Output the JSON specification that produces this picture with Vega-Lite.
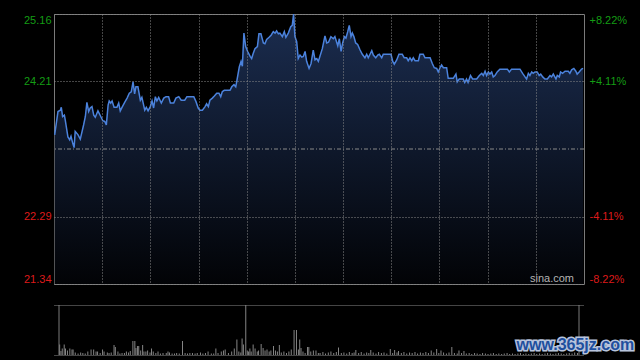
{
  "$schema": "https://vega.github.io/schema/vega-lite/v6.json",
  "background": "#000000",
  "padding": {"left": 22, "top": 13, "right": 5, "bottom": 5},
  "bounds": "flush",
  "spacing": 21,
  "config": {
    "view": {"stroke": "#7a7a7a"},
    "axis": {"labelFont": "Liberation Sans", "labelFontSize": 11, "title": null}
  },
  "datasets": {
    "price": [
      {"t":0.3,"p":23.45},{"t":1.8,"p":23.78},{"t":2.9,"p":23.80},{"t":3.3,"p":23.84},{"t":3.9,"p":23.71},{"t":4.7,"p":23.73},{"t":5.1,"p":23.66},{"t":6.3,"p":23.42},{"t":7.1,"p":23.38},{"t":7.7,"p":23.43},{"t":8.5,"p":23.33},{"t":9.1,"p":23.27},{"t":9.6,"p":23.50},{"t":10.9,"p":23.45},{"t":11.9,"p":23.39},{"t":13.4,"p":23.59},{"t":14.2,"p":23.71},{"t":14.9,"p":23.91},{"t":15.7,"p":23.78},{"t":16.4,"p":23.83},{"t":17.2,"p":23.85},{"t":18.0,"p":23.73},{"t":18.7,"p":23.70},{"t":19.9,"p":23.79},{"t":21.0,"p":23.72},{"t":22.1,"p":23.65},{"t":23.0,"p":23.64},{"t":23.7,"p":23.59},{"t":24.5,"p":23.87},{"t":25.0,"p":23.93},{"t":25.7,"p":23.90},{"t":26.3,"p":23.93},{"t":27.2,"p":23.84},{"t":28.5,"p":23.84},{"t":29.3,"p":23.90},{"t":30.0,"p":23.79},{"t":30.8,"p":23.84},{"t":32.0,"p":23.91},{"t":33.1,"p":23.97},{"t":34.1,"p":24.04},{"t":35.0,"p":24.06},{"t":35.8,"p":24.20},{"t":36.5,"p":24.03},{"t":37.1,"p":24.13},{"t":38.0,"p":24.13},{"t":39.1,"p":23.94},{"t":39.8,"p":23.98},{"t":41.1,"p":23.80},{"t":41.8,"p":23.84},{"t":42.6,"p":23.79},{"t":43.6,"p":23.85},{"t":44.4,"p":23.93},{"t":45.1,"p":23.83},{"t":45.9,"p":23.99},{"t":46.6,"p":23.93},{"t":47.4,"p":23.98},{"t":48.6,"p":23.90},{"t":49.7,"p":23.97},{"t":50.7,"p":23.99},{"t":51.9,"p":23.99},{"t":52.7,"p":23.90},{"t":54.2,"p":23.90},{"t":55.2,"p":23.97},{"t":56.5,"p":23.99},{"t":57.6,"p":23.94},{"t":59.2,"p":23.94},{"t":60.2,"p":23.99},{"t":63.3,"p":23.99},{"t":64.3,"p":23.92},{"t":65.3,"p":23.83},{"t":66.1,"p":23.80},{"t":67.2,"p":23.80},{"t":68.4,"p":23.85},{"t":69.1,"p":23.89},{"t":69.9,"p":23.85},{"t":70.6,"p":23.94},{"t":71.7,"p":23.97},{"t":72.6,"p":24.00},{"t":73.7,"p":24.04},{"t":74.7,"p":24.04},{"t":75.5,"p":23.99},{"t":76.2,"p":24.06},{"t":77.1,"p":24.08},{"t":79.7,"p":24.08},{"t":80.5,"p":24.13},{"t":81.5,"p":24.16},{"t":82.3,"p":24.13},{"t":83.0,"p":24.25},{"t":83.9,"p":24.41},{"t":84.7,"p":24.49},{"t":85.3,"p":24.42},{"t":86.0,"p":24.89},{"t":86.8,"p":24.70},{"t":87.7,"p":24.63},{"t":88.8,"p":24.56},{"t":89.5,"p":24.53},{"t":90.2,"p":24.60},{"t":91.0,"p":24.67},{"t":92.1,"p":24.70},{"t":92.8,"p":24.88},{"t":93.7,"p":24.88},{"t":94.8,"p":24.75},{"t":95.5,"p":24.74},{"t":96.3,"p":24.80},{"t":97.4,"p":24.83},{"t":98.3,"p":24.86},{"t":99.3,"p":24.91},{"t":100.1,"p":24.89},{"t":100.8,"p":24.92},{"t":101.6,"p":24.88},{"t":102.3,"p":24.89},{"t":103.4,"p":24.84},{"t":104.3,"p":24.91},{"t":105.0,"p":24.83},{"t":106.1,"p":24.89},{"t":107.2,"p":24.98},{"t":107.9,"p":25.00},{"t":108.5,"p":25.16},{"t":109.1,"p":24.84},{"t":109.9,"p":24.77},{"t":110.6,"p":24.53},{"t":111.4,"p":24.58},{"t":112.2,"p":24.55},{"t":112.9,"p":24.56},{"t":113.7,"p":24.63},{"t":114.4,"p":24.49},{"t":115.5,"p":24.39},{"t":116.4,"p":24.46},{"t":117.4,"p":24.65},{"t":118.2,"p":24.51},{"t":119.0,"p":24.53},{"t":119.7,"p":24.49},{"t":120.4,"p":24.56},{"t":121.5,"p":24.67},{"t":122.7,"p":24.85},{"t":123.5,"p":24.75},{"t":124.3,"p":24.76},{"t":125.4,"p":24.84},{"t":126.5,"p":24.81},{"t":127.2,"p":24.84},{"t":128.5,"p":24.71},{"t":129.2,"p":24.81},{"t":130.0,"p":24.63},{"t":130.7,"p":24.75},{"t":131.5,"p":24.84},{"t":132.2,"p":24.82},{"t":133.0,"p":24.91},{"t":133.7,"p":25.00},{"t":134.5,"p":24.84},{"t":135.1,"p":24.89},{"t":135.8,"p":24.84},{"t":136.6,"p":24.75},{"t":137.5,"p":24.73},{"t":138.6,"p":24.65},{"t":139.6,"p":24.59},{"t":140.8,"p":24.54},{"t":141.6,"p":24.59},{"t":142.3,"p":24.54},{"t":143.1,"p":24.59},{"t":143.9,"p":24.64},{"t":144.6,"p":24.58},{"t":145.7,"p":24.54},{"t":146.6,"p":24.58},{"t":147.3,"p":24.59},{"t":148.4,"p":24.54},{"t":149.1,"p":24.59},{"t":152.6,"p":24.59},{"t":153.4,"p":24.49},{"t":154.1,"p":24.45},{"t":155.2,"p":24.51},{"t":156.2,"p":24.59},{"t":157.7,"p":24.59},{"t":158.6,"p":24.54},{"t":159.7,"p":24.54},{"t":160.4,"p":24.50},{"t":161.2,"p":24.54},{"t":162.0,"p":24.50},{"t":162.7,"p":24.54},{"t":163.5,"p":24.50},{"t":165.0,"p":24.50},{"t":165.7,"p":24.59},{"t":167.2,"p":24.59},{"t":168.0,"p":24.54},{"t":170.3,"p":24.54},{"t":171.3,"p":24.46},{"t":172.2,"p":24.40},{"t":173.3,"p":24.39},{"t":174.0,"p":24.34},{"t":174.8,"p":24.40},{"t":175.5,"p":24.44},{"t":176.3,"p":24.40},{"t":177.8,"p":24.40},{"t":178.5,"p":24.25},{"t":180.8,"p":24.25},{"t":182.0,"p":24.31},{"t":182.6,"p":24.20},{"t":183.5,"p":24.24},{"t":185.3,"p":24.24},{"t":186.0,"p":24.19},{"t":186.8,"p":24.24},{"t":187.5,"p":24.19},{"t":188.6,"p":24.29},{"t":189.6,"p":24.24},{"t":191.4,"p":24.24},{"t":192.6,"p":24.29},{"t":193.7,"p":24.32},{"t":194.4,"p":24.29},{"t":195.2,"p":24.35},{"t":195.9,"p":24.29},{"t":196.7,"p":24.34},{"t":197.4,"p":24.31},{"t":198.2,"p":24.34},{"t":198.9,"p":24.27},{"t":199.7,"p":24.29},{"t":200.7,"p":24.34},{"t":201.9,"p":24.38},{"t":205.3,"p":24.38},{"t":206.2,"p":24.34},{"t":207.2,"p":24.38},{"t":211.0,"p":24.38},{"t":212.2,"p":24.32},{"t":213.3,"p":24.27},{"t":214.0,"p":24.24},{"t":214.8,"p":24.32},{"t":215.5,"p":24.29},{"t":216.3,"p":24.34},{"t":217.0,"p":24.32},{"t":217.8,"p":24.34},{"t":218.8,"p":24.34},{"t":219.7,"p":24.29},{"t":220.4,"p":24.31},{"t":221.3,"p":24.27},{"t":222.3,"p":24.24},{"t":223.4,"p":24.24},{"t":224.6,"p":24.29},{"t":225.3,"p":24.27},{"t":226.1,"p":24.31},{"t":227.3,"p":24.24},{"t":227.9,"p":24.29},{"t":228.8,"p":24.27},{"t":229.4,"p":24.34},{"t":230.3,"p":24.32},{"t":231.4,"p":24.35},{"t":232.9,"p":24.35},{"t":233.6,"p":24.32},{"t":234.4,"p":24.37},{"t":235.4,"p":24.39},{"t":236.3,"p":24.35},{"t":236.9,"p":24.31},{"t":237.8,"p":24.34},{"t":238.9,"p":24.38},{"t":239.6,"p":24.39}
    ],
    "vol": [
      {"t":0.3,"v":21},{"t":0.9,"v":8},{"t":1.5,"v":13},{"t":2.4,"v":21},{"t":3.0,"v":13},{"t":3.9,"v":9},{"t":5.0,"v":13},{"t":6.0,"v":11},{"t":6.5,"v":11},{"t":7.5,"v":5},{"t":8.8,"v":3},{"t":10.0,"v":5},{"t":11.0,"v":4},{"t":12.1,"v":3},{"t":13.3,"v":7},{"t":14.8,"v":11},{"t":16.0,"v":11},{"t":17.1,"v":7},{"t":17.8,"v":7},{"t":19.0,"v":4},{"t":20.1,"v":11},{"t":20.8,"v":7},{"t":22.3,"v":5},{"t":23.1,"v":4},{"t":24.1,"v":5},{"t":25.4,"v":20},{"t":26.0,"v":16},{"t":27.2,"v":7},{"t":28.1,"v":3},{"t":29.1,"v":4},{"t":30.2,"v":4},{"t":31.1,"v":7},{"t":32.1,"v":5},{"t":32.9,"v":8},{"t":34.1,"v":28},{"t":35.0,"v":28},{"t":35.5,"v":14},{"t":36.2,"v":18},{"t":36.8,"v":18},{"t":37.7,"v":9},{"t":38.6,"v":20},{"t":39.2,"v":7},{"t":40.1,"v":7},{"t":40.9,"v":9},{"t":42.0,"v":5},{"t":42.7,"v":13},{"t":43.5,"v":7},{"t":44.7,"v":4},{"t":45.7,"v":7},{"t":46.8,"v":3},{"t":48.0,"v":4},{"t":49.5,"v":4},{"t":50.3,"v":7},{"t":51.0,"v":5},{"t":52.2,"v":3},{"t":53.3,"v":3},{"t":54.3,"v":4},{"t":55.5,"v":3},{"t":57.0,"v":28},{"t":58.2,"v":4},{"t":59.3,"v":3},{"t":60.4,"v":4},{"t":61.6,"v":4},{"t":62.8,"v":3},{"t":63.8,"v":4},{"t":65.3,"v":5},{"t":66.4,"v":3},{"t":67.6,"v":4},{"t":68.8,"v":7},{"t":70.3,"v":3},{"t":71.4,"v":3},{"t":72.4,"v":13},{"t":73.4,"v":4},{"t":74.9,"v":7},{"t":75.9,"v":9},{"t":76.7,"v":11},{"t":78.2,"v":4},{"t":79.7,"v":7},{"t":80.9,"v":13},{"t":82.1,"v":31},{"t":83.0,"v":7},{"t":83.9,"v":5},{"t":84.5,"v":33},{"t":85.1,"v":21},{"t":86.2,"v":100},{"t":86.9,"v":9},{"t":87.5,"v":7},{"t":88.1,"v":13},{"t":88.7,"v":7},{"t":89.6,"v":21},{"t":90.5,"v":13},{"t":91.5,"v":7},{"t":92.1,"v":9},{"t":93.3,"v":22},{"t":94.2,"v":14},{"t":95.1,"v":9},{"t":96.0,"v":11},{"t":97.0,"v":7},{"t":97.8,"v":9},{"t":99.0,"v":18},{"t":99.9,"v":9},{"t":100.8,"v":7},{"t":101.7,"v":20},{"t":102.6,"v":5},{"t":103.8,"v":7},{"t":105.0,"v":4},{"t":106.1,"v":7},{"t":107.2,"v":11},{"t":108.5,"v":50},{"t":109.6,"v":50},{"t":110.5,"v":11},{"t":111.1,"v":31},{"t":111.7,"v":14},{"t":112.6,"v":7},{"t":113.6,"v":4},{"t":114.7,"v":16},{"t":115.3,"v":16},{"t":116.2,"v":7},{"t":117.4,"v":9},{"t":118.6,"v":9},{"t":119.7,"v":4},
      {"t":120.5,"v":4},{"t":121.8,"v":6},{"t":123.0,"v":3},{"t":124.3,"v":5},{"t":125.5,"v":7},{"t":126.8,"v":4},{"t":128.0,"v":6},{"t":129.0,"v":15},{"t":130.3,"v":4},{"t":131.5,"v":5},{"t":132.8,"v":3},{"t":134.0,"v":6},{"t":135.3,"v":4},{"t":136.2,"v":5},{"t":137.0,"v":10},{"t":138.3,"v":4},{"t":139.5,"v":6},{"t":140.8,"v":3},{"t":142.0,"v":5},{"t":143.0,"v":4},{"t":143.9,"v":10},{"t":145.0,"v":5},{"t":146.3,"v":3},{"t":147.5,"v":6},{"t":148.8,"v":4},{"t":150.0,"v":5},{"t":151.3,"v":3},{"t":152.9,"v":12},{"t":154.0,"v":4},{"t":154.9,"v":10},{"t":156.0,"v":5},{"t":156.7,"v":8},{"t":158.0,"v":4},{"t":159.2,"v":6},{"t":160.5,"v":3},{"t":161.8,"v":5},{"t":163.0,"v":4},{"t":164.3,"v":6},{"t":165.5,"v":3},{"t":166.8,"v":5},{"t":168.0,"v":4},{"t":169.3,"v":6},{"t":170.5,"v":4},{"t":171.8,"v":9},{"t":173.0,"v":5},{"t":174.3,"v":12},{"t":175.3,"v":4},{"t":176.3,"v":9},{"t":177.5,"v":5},{"t":178.8,"v":3},{"t":180.0,"v":5},{"t":181.3,"v":16},{"t":182.5,"v":4},{"t":183.8,"v":3},{"t":184.6,"v":9},{"t":185.8,"v":4},{"t":186.9,"v":8},{"t":188.0,"v":3},{"t":189.3,"v":4},{"t":190.5,"v":2},{"t":191.8,"v":4},{"t":193.0,"v":3},{"t":194.3,"v":2},{"t":195.5,"v":4},{"t":196.8,"v":3},{"t":198.0,"v":2},{"t":199.3,"v":3},{"t":200.5,"v":4},{"t":201.8,"v":2},{"t":203.0,"v":3},{"t":204.3,"v":2},{"t":205.5,"v":3},{"t":206.8,"v":4},{"t":208.0,"v":2},{"t":209.3,"v":3},{"t":210.5,"v":2},{"t":211.8,"v":3},{"t":213.0,"v":4},{"t":214.3,"v":2},{"t":215.5,"v":3},{"t":216.8,"v":2},{"t":218.0,"v":3},{"t":219.3,"v":4},{"t":220.5,"v":2},{"t":221.8,"v":3},{"t":223.0,"v":2},{"t":224.3,"v":3},{"t":225.5,"v":4},{"t":226.8,"v":3},{"t":228.0,"v":2},{"t":229.3,"v":3},{"t":230.5,"v":4},{"t":231.8,"v":3},{"t":233.0,"v":2},{"t":234.3,"v":3},{"t":235.5,"v":4},{"t":236.8,"v":3},{"t":238.0,"v":5},{"t":239.3,"v":4}
    ]
  },
  "vconcat": [
    {
      "width": 530,
      "height": 270,
      "layer": [
        {
          "data": {"name": "price"},
          "mark": {"type": "area", "clip": true, "opacity": 1, "color": {"x1": 0, "y1": 0, "x2": 0, "y2": 1, "gradient": "linear", "stops": [{"offset": 0, "color": "#1b2d50"}, {"offset": 1, "color": "#020306"}]}},
          "encoding": {
            "x": {"field": "t", "type": "quantitative", "scale": {"domain": [0, 240], "nice": false, "zero": false},
              "axis": {"zindex": 1, "values": [21.82, 43.64, 65.45, 87.27, 109.09, 130.91, 152.73, 174.55, 196.36, 218.18], "labels": false, "ticks": false, "domain": false, "grid": true, "gridColor": "#8a8a8a", "gridDash": [1, 2], "gridWidth": 1}},
            "y": {"field": "p", "type": "quantitative", "scale": {"domain": [21.34, 25.16], "nice": false, "zero": false},
              "axis": {"zindex": 1, "orient": "left", "values": [21.34, 22.29, 24.21, 25.16], "format": ".2f", "labelFlush": true, "ticks": false, "domain": false, "labelPadding": 3, "grid": true, "gridColor": "#8a8a8a", "gridDash": [1, 2],
                "labelColor": {"condition": {"test": "datum.value > 23.25", "value": "#149c14"}, "value": "#dd1a1a"}}},
            "y2": {"datum": 21.34}
          }
        },
        {
          "data": {"values": [{"base": 23.25}]},
          "mark": {"type": "rule", "stroke": "#8a8a8a", "strokeDash": [4, 2, 1, 2], "strokeWidth": 1},
          "encoding": {"y": {"field": "base", "type": "quantitative", "axis": null}}
        },
        {
          "data": {"name": "price"},
          "mark": {"type": "line", "stroke": "#4b82dc", "strokeWidth": 1.5, "clip": true},
          "encoding": {
            "x": {"field": "t", "type": "quantitative"},
            "y": {"field": "p", "type": "quantitative",
              "axis": {"orient": "right", "values": [21.34, 22.29, 24.21, 25.16], "labelFlush": true, "ticks": false, "domain": false, "grid": false, "labelPadding": 5,
                "labelExpr": "datum.value == 25.16 ? '+8.22%' : datum.value == 24.21 ? '+4.11%' : datum.value == 22.29 ? '-4.11%' : '-8.22%'",
                "labelColor": {"condition": {"test": "datum.value > 23.25", "value": "#149c14"}, "value": "#dd1a1a"}}}
          }
        },
        {
          "data": {"values": [{"label": "sina.com", "t": 225.5, "p": 21.41}]},
          "mark": {"type": "text", "font": "Liberation Sans", "fontSize": 11, "fill": "#b4b4b4", "align": "center", "baseline": "middle"},
          "encoding": {"text": {"field": "label"}, "x": {"field": "t", "type": "quantitative"}, "y": {"field": "p", "type": "quantitative", "axis": null}}
        }
      ],
      "resolve": {"axis": {"y": "independent"}}
    },
    {
      "width": 530,
      "height": 50,
      "view": {"stroke": null},
      "layer": [
        {
          "data": {"name": "vol"},
          "mark": {"type": "bar", "width": 1, "color": "#858585"},
          "encoding": {
            "x": {"field": "t", "type": "quantitative", "scale": {"domain": [0, 240], "nice": false, "zero": false}, "axis": null},
            "y": {"field": "v", "type": "quantitative", "scale": {"domain": [0, 100], "nice": false},
              "axis": {"zindex": 1, "values": [0, 50, 100], "labels": false, "ticks": false, "domain": false, "grid": true, "gridColor": "#8a8a8a", "gridDash": [1, 1]}}
          }
        },
        {
          "data": {"values": [{"t": 0, "lo": 0, "hi": 100}, {"t": 240, "lo": 0, "hi": 100}]},
          "mark": {"type": "rule", "stroke": "#7a7a7a"},
          "encoding": {"x": {"field": "t", "type": "quantitative"}, "y": {"field": "lo", "type": "quantitative"}, "y2": {"field": "hi"}}
        },
        {
          "data": {"values": [{"label": "www.365jz.com", "t": 238.3, "v": 20}]},
          "mark": {"type": "text", "font": "Liberation Sans", "fontWeight": "bold", "fontSize": 16, "fill": "#b8c4dc", "stroke": "#b8c4dc", "strokeWidth": 3, "align": "center", "baseline": "middle"},
          "encoding": {"text": {"field": "label"}, "x": {"field": "t", "type": "quantitative"}, "y": {"field": "v", "type": "quantitative"}}
        },
        {
          "data": {"values": [{"label": "www.365jz.com", "t": 238.3, "v": 20}]},
          "mark": {"type": "text", "font": "Liberation Sans", "fontWeight": "bold", "fontSize": 16, "fill": "#1f4f9e", "align": "center", "baseline": "middle"},
          "encoding": {"text": {"field": "label"}, "x": {"field": "t", "type": "quantitative"}, "y": {"field": "v", "type": "quantitative"}}
        }
      ]
    }
  ]
}
